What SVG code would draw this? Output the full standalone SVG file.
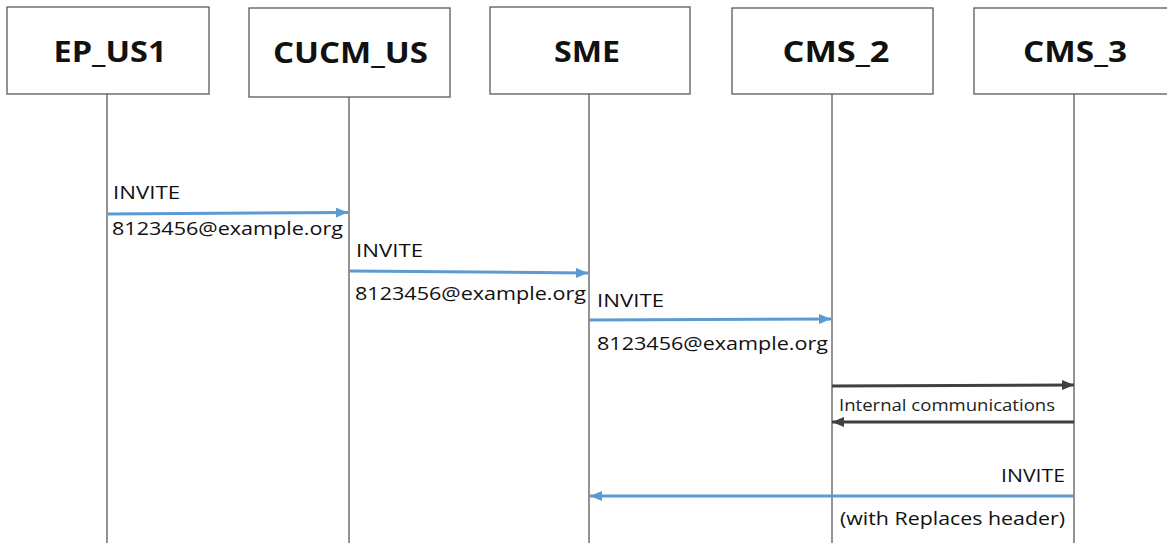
<svg xmlns="http://www.w3.org/2000/svg" width="1167" height="543" viewBox="0 0 1167 543">
<defs>
<style>
.box{fill:#fff;stroke:#595959;stroke-width:1.3}
.title{font-family:"Open Sans","Liberation Sans",sans-serif;font-weight:bold;font-size:29px;fill:#111;text-anchor:middle}
.life{stroke:#595959;stroke-width:1.3}
.lbl{font-family:"Open Sans","Liberation Sans",sans-serif;font-size:18px;fill:#111}
.lbls{font-family:"Open Sans","Liberation Sans",sans-serif;font-size:16px;fill:#222}
.blue{stroke:#5b9bd5;stroke-width:3;fill:none}
.dark{stroke:#404040;stroke-width:3;fill:none}
</style>
<marker id="ab" viewBox="0 0 12 10" refX="12" refY="5" markerWidth="12" markerHeight="10" markerUnits="userSpaceOnUse" orient="auto"><path d="M0,0 L12,5 L0,10 Z" fill="#5b9bd5"/></marker>
<marker id="ad" viewBox="0 0 12 10" refX="12" refY="5" markerWidth="12" markerHeight="10" markerUnits="userSpaceOnUse" orient="auto"><path d="M0,0 L12,5 L0,10 Z" fill="#404040"/></marker>
</defs>
<rect width="1167" height="543" fill="#fff"/>
<g id="lifelines">
<line class="life" x1="107" y1="94" x2="107" y2="543"/>
<line class="life" x1="349" y1="97" x2="349" y2="543"/>
<line class="life" x1="589" y1="94" x2="589" y2="543"/>
<line class="life" x1="832" y1="94" x2="832" y2="543"/>
<line class="life" x1="1074" y1="94" x2="1074" y2="543"/>
</g>
<g id="EP_US1"><rect class="box" x="7" y="7" width="202" height="87"/><text class="title" x="110" y="62" textLength="113" lengthAdjust="spacingAndGlyphs">EP_US1</text></g>
<g id="CUCM_US"><rect class="box" x="249" y="8" width="201" height="89"/><text class="title" x="350.5" y="63" textLength="155" lengthAdjust="spacingAndGlyphs">CUCM_US</text></g>
<g id="SME"><rect class="box" x="490" y="7" width="200" height="87"/><text class="title" x="587" y="62" textLength="66" lengthAdjust="spacingAndGlyphs">SME</text></g>
<g id="CMS_2"><rect class="box" x="732" y="8" width="201" height="86"/><text class="title" x="836" y="62" textLength="107" lengthAdjust="spacingAndGlyphs">CMS_2</text></g>
<g id="CMS_3"><rect class="box" x="974" y="8" width="205" height="86"/><text class="title" x="1075" y="62" textLength="104" lengthAdjust="spacingAndGlyphs">CMS_3</text></g>
<g id="connectors">
<line class="blue" x1="107" y1="214" x2="348" y2="212.5" marker-end="url(#ab)"/>
<line class="blue" x1="349" y1="271" x2="588" y2="273" marker-end="url(#ab)"/>
<line class="blue" x1="589" y1="320" x2="831" y2="319" marker-end="url(#ab)"/>
<line class="dark" x1="832" y1="386" x2="1074" y2="385" marker-end="url(#ad)"/>
<line class="dark" x1="1074" y1="422" x2="832" y2="422" marker-end="url(#ad)"/>
<line class="blue" x1="1074" y1="496" x2="590" y2="496" marker-end="url(#ab)"/>
</g>
<g id="labels">
<text class="lbl" x="113" y="199" textLength="67" lengthAdjust="spacingAndGlyphs">INVITE</text>
<text class="lbl" x="112" y="235" textLength="231" lengthAdjust="spacingAndGlyphs">8123456@example.org</text>
<text class="lbl" x="356" y="257" textLength="67" lengthAdjust="spacingAndGlyphs">INVITE</text>
<text class="lbl" x="355" y="300" textLength="231" lengthAdjust="spacingAndGlyphs">8123456@example.org</text>
<text class="lbl" x="597" y="307" textLength="67" lengthAdjust="spacingAndGlyphs">INVITE</text>
<text class="lbl" x="597" y="350" textLength="231" lengthAdjust="spacingAndGlyphs">8123456@example.org</text>
<text class="lbls" x="839" y="411" textLength="216" lengthAdjust="spacingAndGlyphs">Internal communications</text>
<text class="lbl" x="1001" y="482" textLength="64" lengthAdjust="spacingAndGlyphs">INVITE</text>
<text class="lbl" x="840" y="525" textLength="225" lengthAdjust="spacingAndGlyphs">(with Replaces header)</text>
</g>
</svg>
